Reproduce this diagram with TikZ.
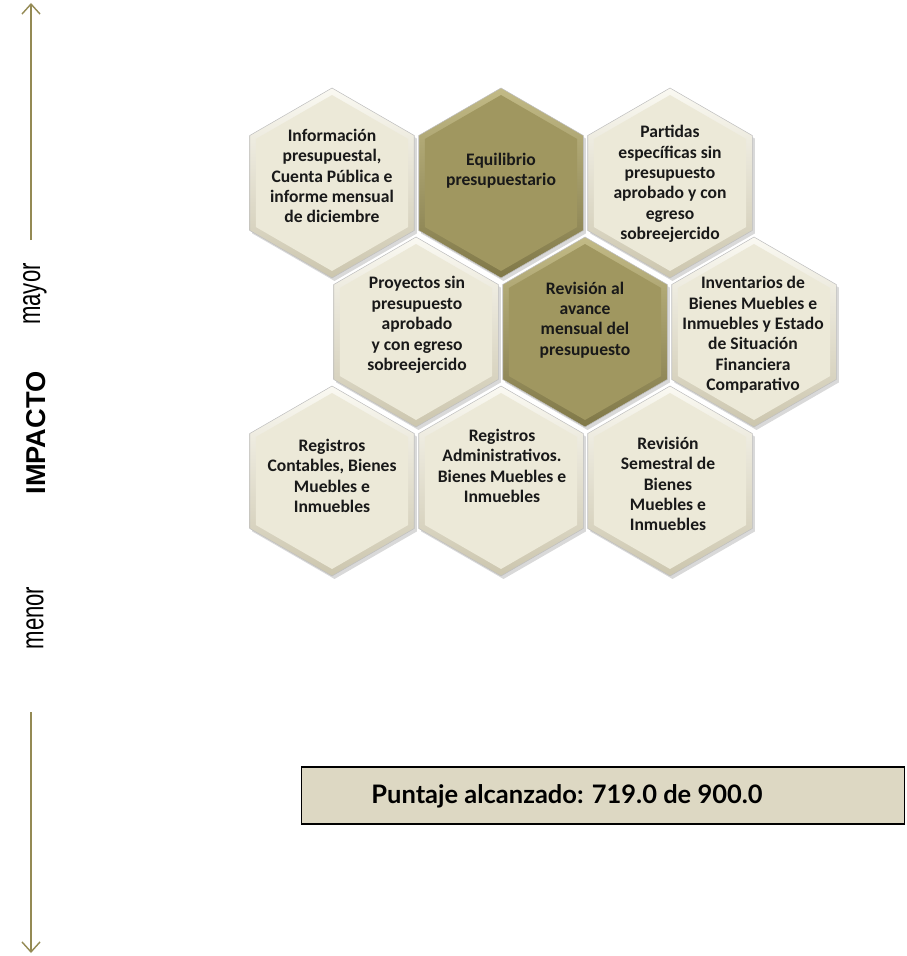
\documentclass[tikz,border=0pt]{standalone}
\usepackage{fontspec}
\setmainfont{Carlito}
\newfontfamily\axisfont{Liberation Sans}
\newfontfamily\axisnarrow[FakeStretch=0.7]{Liberation Sans}
\newfontfamily\scorefont{Lato}
\usetikzlibrary{shapes.geometric, arrows.meta, shadows}

\definecolor{olive}{RGB}{148,138,84}
\definecolor{cream}{RGB}{236,233,216}
\definecolor{creamhi}{RGB}{250,249,242}
\definecolor{creamlo}{RGB}{204,198,174}
\definecolor{khaki}{RGB}{160,151,96}
\definecolor{khakihi}{RGB}{194,186,134}
\definecolor{khakilo}{RGB}{128,120,72}
\definecolor{scorebg}{RGB}{221,216,195}

\begin{document}
\begin{tikzpicture}[x=0.02cm, y=-0.02cm,
        hexrim/.style={
            regular polygon, regular polygon sides=6, shape border rotate=90,
            minimum size=3.8cm, inner sep=0pt, draw=black!25, line width=0.3pt,
            drop shadow={shadow xshift=0.5mm, shadow yshift=-0.6mm, opacity=0.3}
        },
        lightrim/.style={hexrim, top color=creamhi, bottom color=creamlo},
        darkrim/.style={hexrim, top color=khakihi, bottom color=khakilo},
        hexface/.style={
            regular polygon, regular polygon sides=6, shape border rotate=90,
            minimum size=3.52cm, inner sep=0pt
        },
        lightface/.style={hexface, fill=cream},
        darkface/.style={hexface, fill=khaki},
        cell/.style={font=\bfseries\fontsize{10}{11.6}\selectfont, align=center, text=black!90},
        axisline/.style={olive, line width=0.8pt, -{Straight Barb[length=2mm, width=3.6mm]}},
        axislabel/.style={rotate=90, inner sep=0pt},
        scorebox/.style={
            rectangle, draw, line width=0.9pt, fill=scorebg,
            minimum width=12.06cm, minimum height=1.14cm
        }
    ]
    \useasboundingbox (0,0) rectangle (906,956);

    % impact axis
    \coordinate (uptop) at (31,3);
    \coordinate (upbase) at (31,240);
    \coordinate (downtop) at (31,712);
    \coordinate (downend) at (31,953);
    \draw[axisline] (upbase) -- (uptop);
    \draw[axisline] (downtop) -- (downend);
    \node[axislabel, font=\axisnarrow\fontsize{18}{18}\selectfont] (mayor) at (35,294) {mayor};
    \node[axislabel, font=\axisfont\bfseries\fontsize{15.5}{15.5}\selectfont] (impacto) at (36,433) {IMPACTO};
    \node[axislabel, font=\axisnarrow\fontsize{18}{18}\selectfont] (menor) at (35,618) {menor};

    % row 1
    \node[lightrim] (inforim) at (332,183) {};
    \node[lightface] (info) at (inforim) {};
    \node[cell] (infotxt) at (332,176)
        {Información\\presupuestal,\\Cuenta Pública e\\informe mensual\\de diciembre};

    \node[darkrim] (equilrim) at (501,183) {};
    \node[darkface] (equil) at (equilrim) {};
    \node[cell] (equiltxt) at (501,171) {Equilibrio\\presupuestario};

    \node[lightrim] (partrim) at (670,183) {};
    \node[lightface] (part) at (partrim) {};
    \node[cell] (parttxt) at (670,184)
        {Partidas\\específicas sin\\presupuesto\\aprobado y con\\egreso\\sobreejercido};

    % row 2
    \node[lightrim] (proyrim) at (416,332) {};
    \node[lightface] (proy) at (proyrim) {};
    \node[cell] (proytxt) at (417,325)
        {Proyectos sin\\presupuesto\\aprobado\\y con egreso\\sobreejercido};

    \node[darkrim] (avancerim) at (585,332) {};
    \node[darkface] (avance) at (avancerim) {};
    \node[cell] (avancetxt) at (585,320)
        {Revisión al\\avance\\mensual del\\presupuesto};

    \node[lightrim] (invrim) at (754,332) {};
    \node[lightface] (inv) at (invrim) {};
    \node[cell] (invtxt) at (753,335)
        {Inventarios de\\Bienes Muebles e\\Inmuebles y Estado\\de Situación\\Financiera\\Comparativo};

    % row 3
    \node[lightrim] (contrim) at (332,481) {};
    \node[lightface] (cont) at (contrim) {};
    \node[cell] (conttxt) at (332,476)
        {Registros\\Contables, Bienes\\Muebles e\\Inmuebles};

    \node[lightrim] (admrim) at (501,481) {};
    \node[lightface] (adm) at (admrim) {};
    \node[cell] (admtxt) at (502,466)
        {Registros\\Administrativos.\\Bienes Muebles e\\Inmuebles};

    \node[lightrim] (semrim) at (670,481) {};
    \node[lightface] (sem) at (semrim) {};
    \node[cell] (semtxt) at (668,484)
        {Revisión\\Semestral de\\Bienes\\Muebles e\\Inmuebles};

    % score
    \node[scorebox] (score) at (603,795.5) {};
    \node[font=\scorefont\bfseries\fontsize{14.5}{14.5}\selectfont] (scoretxt) at (567,796)
        {Puntaje alcanzado: 719.0 de 900.0};
\end{tikzpicture}
\end{document}
